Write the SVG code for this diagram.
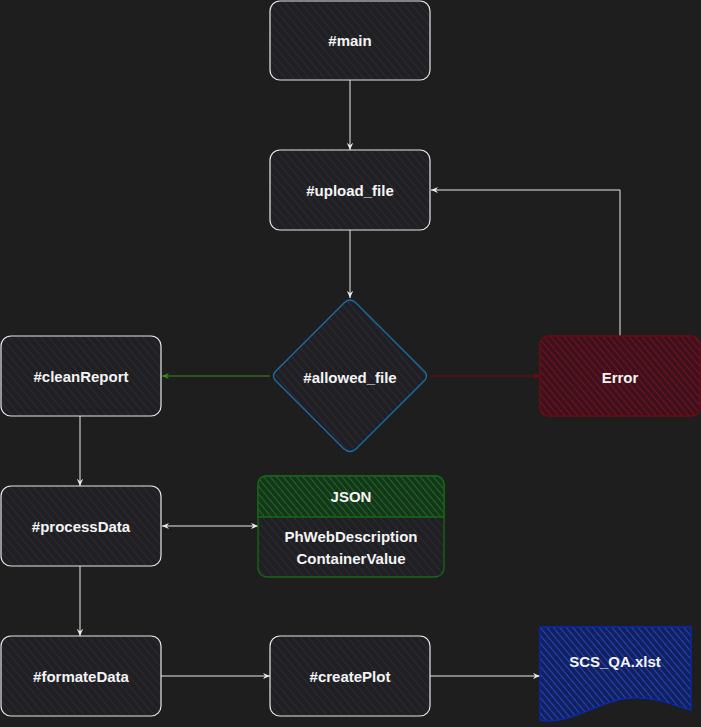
<svg xmlns="http://www.w3.org/2000/svg" width="701" height="727" viewBox="0 0 701 727">
<defs>
<pattern id="hDark" patternUnits="userSpaceOnUse" width="6" height="6" patternTransform="rotate(-40)">
<rect width="6" height="6" fill="#202024"/><line x1="0" y1="0" x2="0" y2="6" stroke="#2b2b30" stroke-width="2"/>
</pattern>
<pattern id="hRed" patternUnits="userSpaceOnUse" width="5" height="5" patternTransform="rotate(-40)">
<rect width="5" height="5" fill="#3e1019"/><line x1="0" y1="0" x2="0" y2="5" stroke="#701428" stroke-width="2"/>
</pattern>
<pattern id="hBlue" patternUnits="userSpaceOnUse" width="5" height="5" patternTransform="rotate(-40)">
<rect width="5" height="5" fill="#132060"/><line x1="0" y1="0" x2="0" y2="5" stroke="#2147b8" stroke-width="2"/>
</pattern>
<pattern id="hGreen" patternUnits="userSpaceOnUse" width="5" height="5" patternTransform="rotate(-40)">
<rect width="5" height="5" fill="#15361a"/><line x1="0" y1="0" x2="0" y2="5" stroke="#1f6a22" stroke-width="2"/>
</pattern>
<marker id="aW" viewBox="0 0 10 10" refX="9" refY="5" markerWidth="8" markerHeight="8" orient="auto-start-reverse" markerUnits="userSpaceOnUse">
<path d="M0,1 L9,5 L0,9 L3,5 Z" fill="#e8e8e8"/>
</marker>
<marker id="aG" viewBox="0 0 10 10" refX="9" refY="5" markerWidth="8" markerHeight="8" orient="auto" markerUnits="userSpaceOnUse">
<path d="M0,1 L9,5 L0,9 L3,5 Z" fill="#3c8a1c"/>
</marker>
<marker id="aR" viewBox="0 0 10 10" refX="9" refY="5" markerWidth="8" markerHeight="8" orient="auto" markerUnits="userSpaceOnUse">
<path d="M0,1 L9,5 L0,9 L3,5 Z" fill="#7a0a0a"/>
</marker>
</defs>
<style>
.box{fill:url(#hDark);stroke:#e6e6e6;stroke-width:1.2}
.t{font-family:"Liberation Sans",Arial,sans-serif;font-size:15px;font-weight:bold;fill:#f4f4f4;text-anchor:middle;dominant-baseline:central}
.c{fill:none;stroke:#e8e8e8;stroke-width:1}
</style>
<rect width="701" height="727" fill="#1e1e1e"/>
<g id="connectors">
<path class="c" d="M350,80 L350,150" marker-end="url(#aW)"/>
<path class="c" d="M350,230 L350,298" marker-end="url(#aW)"/>
<path d="M270,376 L162,376" fill="none" stroke="#3c8a1c" stroke-width="1" marker-end="url(#aG)"/>
<path d="M430,376 L540,376" fill="none" stroke="#7a0a0a" stroke-width="1" marker-end="url(#aR)"/>
<path class="c" d="M620,336 L620,190 L431,190" marker-end="url(#aW)"/>
<path class="c" d="M80,416 L80,486" marker-end="url(#aW)"/>
<path class="c" d="M162,526 L258,526" marker-start="url(#aW)" marker-end="url(#aW)"/>
<path class="c" d="M80,566 L80,636" marker-end="url(#aW)"/>
<path class="c" d="M161,676 L270,676" marker-end="url(#aW)"/>
<path class="c" d="M430,676 L540,676" marker-end="url(#aW)"/>
</g>
<g id="main"><rect class="box" x="270" y="1" width="160" height="79" rx="10"/><text class="t" x="350" y="40">#main</text></g>
<g id="upload_file"><rect class="box" x="270" y="150" width="160" height="80" rx="10"/><text class="t" x="350" y="190">#upload_file</text></g>
<g id="allowed_file"><path d="M350,300 Q353,300 356,303 L425,372 Q428,376 425,380 L356,449 Q350,454 344,449 L275,380 Q272,376 275,372 L344,303 Q347,300 350,300 Z" fill="url(#hDark)" stroke="#1a6fa8" stroke-width="1.3"/><text class="t" x="350" y="377">#allowed_file</text></g>
<g id="error"><rect x="540" y="336" width="160" height="80" rx="8" fill="url(#hRed)" stroke="#6f0a14" stroke-width="1.3"/><text class="t" x="620" y="377">Error</text></g>
<g id="cleanReport"><rect class="box" x="1" y="336" width="160" height="80" rx="10"/><text class="t" x="81" y="376">#cleanReport</text></g>
<g id="processData"><rect class="box" x="1" y="486" width="160" height="80" rx="10"/><text class="t" x="81" y="526">#processData</text></g>
<g id="json"><rect x="258" y="476" width="186" height="101" rx="9" fill="url(#hDark)" stroke="#156a15" stroke-width="1.3"/><path d="M258,517 L258,485 Q258,476 267,476 L435,476 Q444,476 444,485 L444,517 Z" fill="url(#hGreen)" stroke="#156a15" stroke-width="1.3"/><text class="t" x="351" y="496">JSON</text><text class="t" x="351" y="536">PhWebDescription</text><text class="t" x="351" y="558">ContainerValue</text></g>
<g id="formateData"><rect class="box" x="1" y="636" width="160" height="80" rx="10"/><text class="t" x="81" y="676">#formateData</text></g>
<g id="createPlot"><rect class="box" x="270" y="636" width="160" height="80" rx="10"/><text class="t" x="350" y="676">#createPlot</text></g>
<g id="scs_qa"><path d="M540,627 L691,627 L691,710 C675,706 655,696 630,698 C600,700 570,726 540,720 Z" fill="url(#hBlue)" stroke="#0a28b0" stroke-width="1.3"/><text class="t" x="615" y="661">SCS_QA.xlst</text></g>
</svg>
